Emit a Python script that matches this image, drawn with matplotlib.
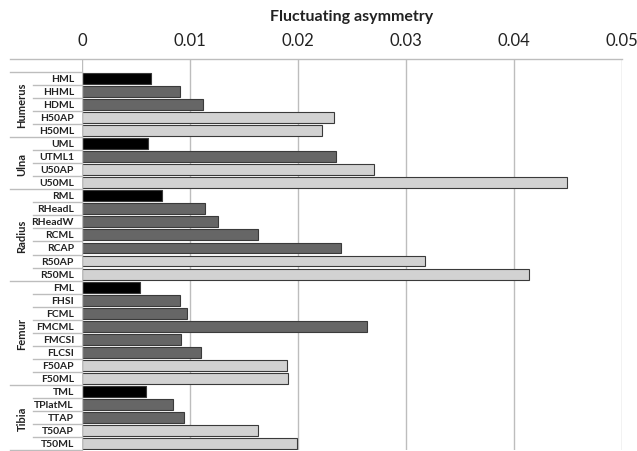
import matplotlib
matplotlib.use("Agg")
import matplotlib.pyplot as plt
import matplotlib.transforms as mtransforms
import numpy as np

plt.rcParams['font.family'] = ['Lato', 'DejaVu Sans']

# data
groups = ["Humerus", "Ulna", "Radius", "Femur", "Tibia"]
humerus_labels = ["HML", "HHML", "HDML", "H50AP", "H50ML"]
humerus_values = [0.0064, 0.0091, 0.0112, 0.0233, 0.0222]
ulna_labels = ["UML", "UTML1", "U50AP", "U50ML"]
ulna_values = [0.0061, 0.0235, 0.0270, 0.0449]
radius_labels = ["RML", "RHeadL", "RHeadW", "RCML", "RCAP", "R50AP", "R50ML"]
radius_values = [0.0074, 0.0114, 0.0126, 0.0163, 0.0240, 0.0318, 0.0414]
femur_labels = ["FML", "FHSI", "FCML", "FMCML", "FMCSI", "FLCSI", "F50AP", "F50ML"]
femur_values = [0.0054, 0.0091, 0.0097, 0.0264, 0.0092, 0.0110, 0.0190, 0.0191]
tibia_labels = ["TML", "TPlatML", "TTAP", "T50AP", "T50ML"]
tibia_values = [0.0059, 0.0084, 0.0094, 0.0163, 0.0199]

group_labels = [humerus_labels, ulna_labels, radius_labels, femur_labels, tibia_labels]
group_values = [humerus_values, ulna_values, radius_values, femur_values, tibia_values]

c_black = '#000000'
c_dark = '#666666'
c_light = '#d2d2d2'
c_grid = '#bdbdbd'


def bar_color(lab):
    if lab.endswith("50AP") or lab.endswith("50ML"):
        return c_light
    if lab in ("HML", "UML", "RML", "FML", "TML"):
        return c_black
    return c_dark


labels = []
values = []
colors = []
for labs, vals in zip(group_labels, group_values):
    labels += labs
    values += vals
    colors += [bar_color(l) for l in labs]

fig = plt.figure(figsize=(6.37, 4.52), dpi=100)
ax = fig.add_axes([82 / 637, 1 - 451 / 452, 540 / 637, 391 / 452])

# first slot left empty, as in the reference
ypos = np.arange(1, len(labels) + 1)
ax.barh(ypos, values, height=0.84, color=colors, edgecolor='#3a3a3a',
        linewidth=0.8, zorder=3)

ax.set_xlim(0, 0.05)
ax.set_ylim(len(labels) + 0.5, -0.5)
ax.set_xticks([0, 0.01, 0.02, 0.03, 0.04, 0.05])
ax.set_xticklabels(["0", "0.01", "0.02", "0.03", "0.04", "0.05"])
ax.xaxis.tick_top()
ax.tick_params(axis='x', length=0, pad=8, labelsize=12, colors='#222222')
ax.set_title("Fluctuating asymmetry", fontsize=11.5, fontweight='bold',
             pad=28, color='#222222')
ax.set_yticks([])
for s in ax.spines.values():
    s.set_visible(False)
for xv in [0.01, 0.02, 0.03, 0.04, 0.05]:
    ax.axvline(xv, color=c_grid, linewidth=1, zorder=1)
ax.axvline(0, color=c_grid, linewidth=1, zorder=4)

trans = mtransforms.blended_transform_factory(ax.transAxes, ax.transData)
x_far = -72 / 540
x_near = -49 / 540

# top axis line
ax.plot([x_far, 1], [-0.5, -0.5], transform=trans, color=c_grid,
        linewidth=1, clip_on=False)

for yy, lab in zip(ypos, labels):
    ax.text(-8 / 540, yy, lab, transform=trans, ha='right', va='center',
            fontsize=7.5, fontweight='bold', color='#222222')

start = 1
for g, labs in zip(groups, group_labels):
    n = len(labs)
    top = start - 0.5
    ax.plot([x_far, 0], [top, top], transform=trans, color=c_grid,
            linewidth=1, clip_on=False)
    for k in range(1, n):
        ax.plot([x_near, 0], [top + k, top + k], transform=trans,
                color=c_grid, linewidth=1, clip_on=False)
    ax.text(-60 / 540, top + n / 2, g, transform=trans, rotation=90,
            ha='center', va='center', fontsize=8, fontweight='bold',
            color='#222222')
    start += n
ax.plot([x_far, 0], [start - 0.5, start - 0.5], transform=trans,
        color=c_grid, linewidth=1, clip_on=False)

fig.savefig("out.png", dpi=100)
